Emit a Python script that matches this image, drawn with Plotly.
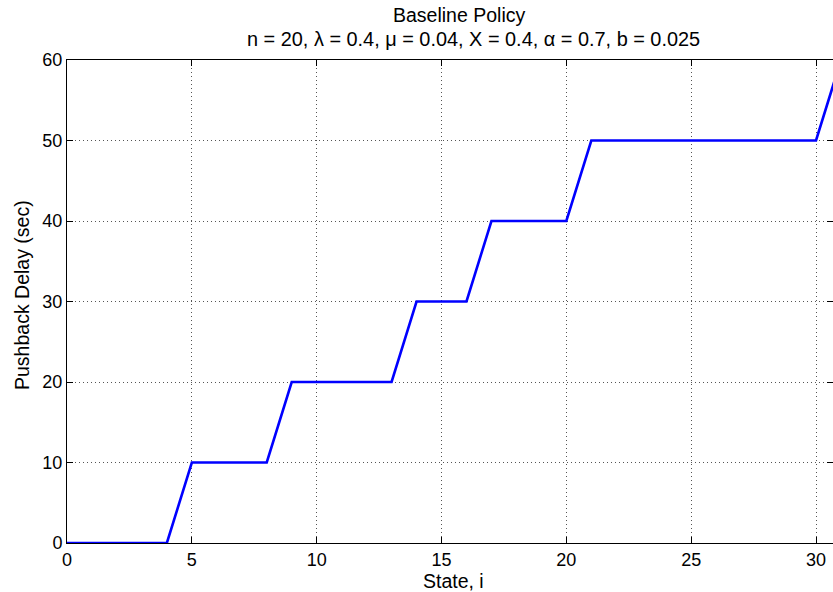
import plotly.graph_objects as go

states = list(range(0, 32))
delays = [0, 0, 0, 0, 0, 10, 10, 10, 10, 20, 20, 20, 20, 20, 30, 30, 30, 40, 40, 40, 40,
          50, 50, 50, 50, 50, 50, 50, 50, 50, 50, 60]
x_ticks = [0, 5, 10, 15, 20, 25, 30]
y_ticks = [0, 10, 20, 30, 40, 50, 60]

FONT = "Liberation Sans, Arial, Helvetica, sans-serif"

fig = go.Figure()
fig.add_trace(go.Scatter(x=states, y=delays, mode="lines",
                         line=dict(color="#0000FF", width=2.6), showlegend=False,
                         cliponaxis=True))

axis_common = dict(
    showline=True, linecolor="black", linewidth=1, mirror="ticks",
    ticks="inside", ticklen=6, tickcolor="black", tickwidth=1,
    showgrid=True, gridcolor="#555555", gridwidth=1, griddash="1px,3px",
    zeroline=False, tickfont=dict(family=FONT, size=18, color="black"),
    automargin=False,
)

fig.update_xaxes(range=[0, 30.68], tickvals=x_ticks, **axis_common)
fig.update_yaxes(range=[0, 60], tickvals=y_ticks, **axis_common)

fig.update_layout(
    width=833, height=592,
    margin=dict(l=67, r=0, t=60, b=49),
    paper_bgcolor="white", plot_bgcolor="white",
    font=dict(family=FONT, color="black"),
    annotations=[
        dict(text="Baseline Policy",
             xref="paper", yref="paper", x=(459 - 67) / 766, y=1.0, yshift=45,
             xanchor="center", yanchor="middle", showarrow=False,
             font=dict(family=FONT, size=19.5, color="black")),
        dict(text="n = 20, λ = 0.4, μ = 0.04, X = 0.4, α = 0.7, b = 0.025",
             xref="paper", yref="paper", x=(473 - 67) / 766, y=1.0, yshift=21,
             xanchor="center", yanchor="middle", showarrow=False,
             font=dict(family=FONT, size=19.9, color="black")),
        dict(text="State, i", xref="paper", yref="paper", x=(453 - 67) / 766, y=0, yshift=-38,
             xanchor="center", yanchor="middle", showarrow=False,
             font=dict(family=FONT, size=19.5, color="black")),
        dict(text="Pushback Delay (sec)", xref="paper", yref="paper", x=0, xshift=-45,
             y=(543 - 295) / 483, xanchor="center", yanchor="middle", textangle=-90,
             showarrow=False,
             font=dict(family=FONT, size=19.5, color="black")),
    ],
)

# remove the default 8px page margin so the figure fills the window exactly
fig.write_html("out.html",
               config={"displayModeBar": False, "staticPlot": True},
               post_script="document.body.style.margin='0';document.body.style.overflow='hidden';")
